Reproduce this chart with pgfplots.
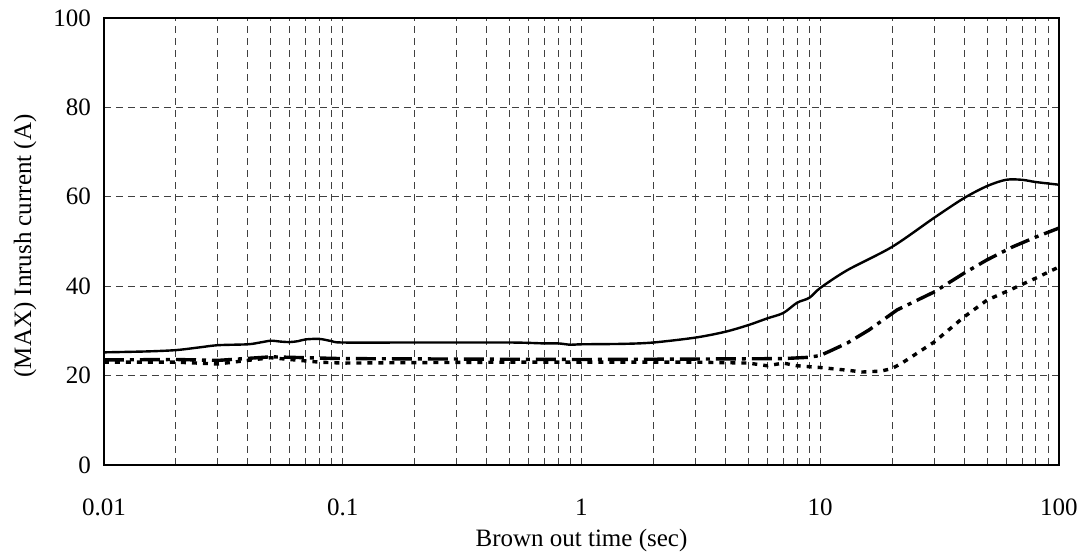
\documentclass[border=0pt]{standalone}
\usepackage{fontspec}
\setmainfont{Liberation Serif}
\usepackage{pgfplots}
\pgfplotsset{compat=1.18}

\begin{document}
\begin{tikzpicture}
\begin{axis}[
    scale only axis,
    width=477.5pt, height=223.5pt,
    xmode=log,
    xmin=0.01, xmax=100,
    ymin=0, ymax=100,
    xtick={0.01,0.1,1,10,100},
    xticklabels={0.01,0.1,1,10,100},
    ytick={0,20,40,60,80,100},
    major tick length=0pt, minor tick length=0pt,
    grid=both,
    major grid style={black!75, line width=0.45pt, dash pattern=on 3.5pt off 2.5pt},
    minor grid style={black!75, line width=0.45pt, dash pattern=on 3.5pt off 2.5pt},
    axis line style={line width=1.2pt},
    font=\fontsize{12.5}{15}\selectfont,
    /pgf/number format/assume math mode=true,
    yticklabel style={xshift=-3pt},
    xticklabel style={yshift=-13.5pt},
    xlabel={Brown out time (sec)},
    ylabel={(MAX) Inrush current (A)},
    xlabel style={at={(axis description cs:0.5,-0.168)}, anchor=center},
    ylabel style={at={(axis description cs:-0.0827,0.49)}, anchor=center},
    clip=false,
]
% solid
\addplot[black, line width=1.2pt, smooth] coordinates {
(0.01,25.2) (0.015,25.4) (0.02,25.7) (0.025,26.3) (0.03,26.8) (0.04,27.0)
(0.045,27.4) (0.05,27.8) (0.055,27.6) (0.06,27.5) (0.065,27.7) (0.07,28.1)
(0.08,28.2) (0.09,27.7) (0.1,27.4) (0.2,27.4) (0.5,27.4) (0.7,27.2) (0.8,27.2)
(0.9,26.9) (1,27.0) (1.5,27.1) (2,27.4) (3,28.5) (4,29.8) (5,31.3) (6,32.8)
(7,34) (8,36.3) (9,37.4) (10,39.6) (13,43.6) (20,48.8) (30,55.3) (40,59.7)
(50,62.4) (60,63.8) (70,63.8) (80,63.3) (100,62.7)
};
% dash-dot
\addplot[black, line width=1.7pt, dash pattern=on 10pt off 3pt on 2pt off 3pt] coordinates {
(0.01,23.5) (0.02,23.6) (0.03,23.4) (0.05,24.2) (0.07,24) (0.1,23.8) (0.3,23.7)
(1,23.6) (3,23.7) (7,23.8) (9,24.1) (10,24.5) (11,25.5) (13,27.3) (16,30.2)
(21,34.7) (30,38.7) (40,42.9) (50,45.9) (64,48.8) (80,51) (100,53)
};
% dotted
\addplot[black, line width=1.7pt, dash pattern=on 2.5pt off 3pt] coordinates {
(0.01,23) (0.02,23) (0.03,22.6) (0.04,23.4) (0.05,24) (0.06,23.6) (0.08,23)
(0.1,22.8) (0.2,22.9) (0.5,23) (1,23) (3,23) (5,22.8) (6,22.2) (7,22.8) (8,22.2)
(10,21.8) (13,21.2) (15,20.8) (18,21) (20,21.6) (22,22.8) (30,27.5) (40,33.1)
(50,36.9) (62,39.1) (80,41.8) (100,44.3)
};
\end{axis}
\path[use as bounding box] (-52pt,-47.5pt) rectangle (492pt,232.5pt);
\end{tikzpicture}
\end{document}
